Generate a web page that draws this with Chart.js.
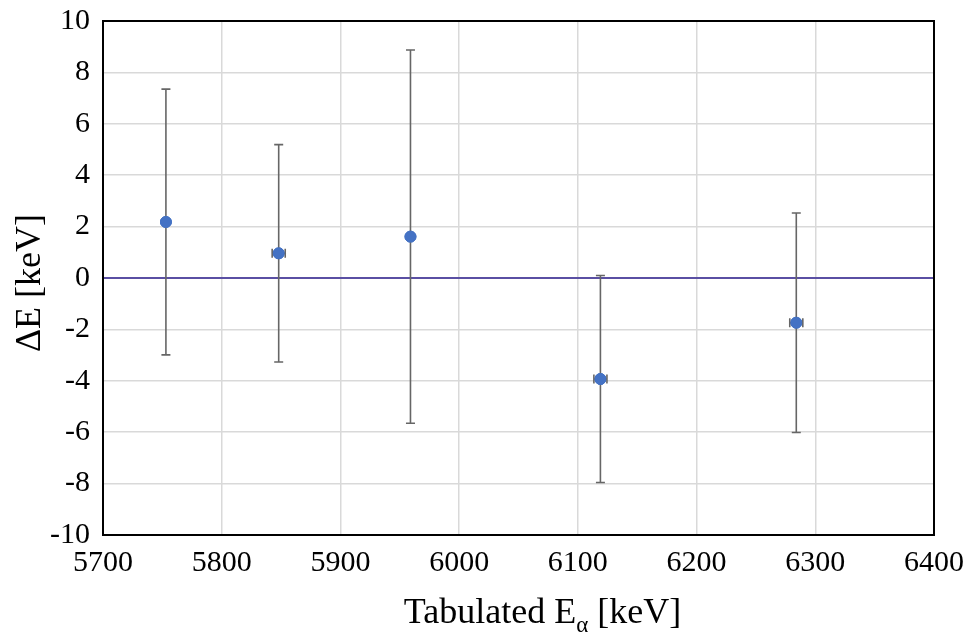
<!DOCTYPE html>
<html><head><meta charset="utf-8">
<script src="https://cdn.jsdelivr.net/npm/chart.js@4"></script>
<style>html,body{margin:0;padding:0;background:#fff}#wrap{width:969px;height:633px;position:relative}</style>
</head><body><div id="wrap"><canvas id="c" width="969" height="633"></canvas></div>
<script>
// Data
const energies = [5753, 5848, 5959, 6119, 6284];      // Tabulated E_alpha [keV]
const deltaE   = [2.18, 0.96, 1.61, -3.93, -1.74];     // Delta E [keV]
const yErr     = [5.17, 4.23, 7.26, 4.03, 4.27];       // symmetric error in Delta E
const xErr     = [2, 5.5, 2, 5.5, 5.5];                // error in tabulated energy
const xTicks   = [5700, 5800, 5900, 6000, 6100, 6200, 6300, 6400];
const yTicks   = [-10, -8, -6, -4, -2, 0, 2, 4, 6, 8, 10];
const refLevel = 0;
const xTitleParts = ['Tabulated E', 'α', ' [keV]'];
const yTitleText = 'ΔE [keV]';

const FONT = "'Liberation Serif', 'Times New Roman', serif";

const points = energies.map((e, i) => ({x: e, y: deltaE[i], ex: xErr[i], ey: yErr[i]}));
const zeroLine = [{x: xTicks[0], y: refLevel}, {x: xTicks[xTicks.length - 1], y: refLevel}];

const errorBarPlugin = {
  id: 'errorBars',
  afterDatasetsDraw(chart) {
    const ctx = chart.ctx, xs = chart.scales.x, ys = chart.scales.y;
    ctx.save();
    ctx.strokeStyle = '#666666';
    ctx.lineWidth = 1.6;
    const cap = 4.5;
    points.forEach(p => {
      const px = xs.getPixelForValue(p.x), py = ys.getPixelForValue(p.y);
      const yT = ys.getPixelForValue(p.y + p.ey), yB = ys.getPixelForValue(p.y - p.ey);
      const xL = xs.getPixelForValue(p.x - p.ex), xR = xs.getPixelForValue(p.x + p.ex);
      ctx.beginPath();
      ctx.moveTo(px, yT); ctx.lineTo(px, yB);
      ctx.moveTo(px - cap, yT); ctx.lineTo(px + cap, yT);
      ctx.moveTo(px - cap, yB); ctx.lineTo(px + cap, yB);
      ctx.moveTo(xL, py); ctx.lineTo(xR, py);
      ctx.moveTo(xL, py - cap); ctx.lineTo(xL, py + cap);
      ctx.moveTo(xR, py - cap); ctx.lineTo(xR, py + cap);
      ctx.stroke();
    });
    // redraw markers on top
    const meta = chart.getDatasetMeta(1);
    meta.data.forEach(el => el.draw(ctx));
    ctx.restore();
  },
  afterDraw(chart) {
    const ctx = chart.ctx, a = chart.chartArea;
    ctx.save();
    ctx.strokeStyle = '#000';
    ctx.lineWidth = 2;
    ctx.strokeRect(a.left, a.top, a.right - a.left, a.bottom - a.top);
    // y title
    ctx.fillStyle = '#000';
    ctx.font = "36px " + FONT;
    ctx.textAlign = 'center';
    ctx.textBaseline = 'middle';
    ctx.translate(31, 283);
    ctx.rotate(-Math.PI / 2);
    ctx.fillText(yTitleText, 0, 0);
    ctx.setTransform(1, 0, 0, 1, 0, 0);
    // x title with subscript
    const big = "36px " + FONT, small = "23px " + FONT;
    ctx.textAlign = 'left';
    ctx.textBaseline = 'alphabetic';
    ctx.font = big; const w0 = ctx.measureText(xTitleParts[0]).width;
    ctx.font = small; const w1 = ctx.measureText(xTitleParts[1]).width;
    ctx.font = big; const w2 = ctx.measureText(xTitleParts[2]).width;
    const total = w0 + w1 + w2;
    let x = 542.5 - total / 2;
    const base = 623;
    ctx.font = big; ctx.fillText(xTitleParts[0], x, base); x += w0;
    ctx.font = small; ctx.fillText(xTitleParts[1], x, base + 9); x += w1;
    ctx.font = big; ctx.fillText(xTitleParts[2], x, base);
    ctx.restore();
  }
};

new Chart(document.getElementById('c'), {
  type: 'scatter',
  data: {
    datasets: [
      {
        type: 'line', data: zeroLine, borderColor: '#5a4fa3', borderWidth: 2,
        pointRadius: 0, fill: false, order: 2
      },
      {
        data: points, backgroundColor: '#4472C4', borderColor: '#4472C4',
        pointRadius: 5.5, pointHoverRadius: 5.5, order: 1
      }
    ]
  },
  options: {
    responsive: false,
    animation: false,
    events: [],
    layout: {padding: {top: 21, right: 35, left: 0, bottom: 0}},
    plugins: {legend: {display: false}, tooltip: {enabled: false}},
    scales: {
      x: {
        type: 'linear', min: xTicks[0], max: xTicks[xTicks.length - 1],
        afterBuildTicks: s => { s.ticks = xTicks.map(v => ({value: v})); },
        afterFit: s => { s.height = 98; s.paddingLeft = 0; s.paddingRight = 0; },
        grid: {color: '#d9d9d9', lineWidth: 1.5, drawTicks: false},
        border: {display: false},
        ticks: {color: '#000', font: {family: FONT, size: 30}, padding: 10, maxRotation: 0, autoSkip: false,
                callback: v => String(v)}
      },
      y: {
        type: 'linear', min: yTicks[0], max: yTicks[yTicks.length - 1],
        afterBuildTicks: s => { s.ticks = yTicks.map(v => ({value: v})); },
        afterFit: s => { s.width = 103; s.paddingTop = 0; s.paddingBottom = 0; },
        grid: {color: '#d9d9d9', lineWidth: 1.5, drawTicks: false},
        border: {display: false},
        ticks: {color: '#000', font: {family: FONT, size: 30}, padding: 13, autoSkip: false,
                callback: v => String(v)}
      }
    }
  },
  plugins: [errorBarPlugin]
});
</script></body></html>
